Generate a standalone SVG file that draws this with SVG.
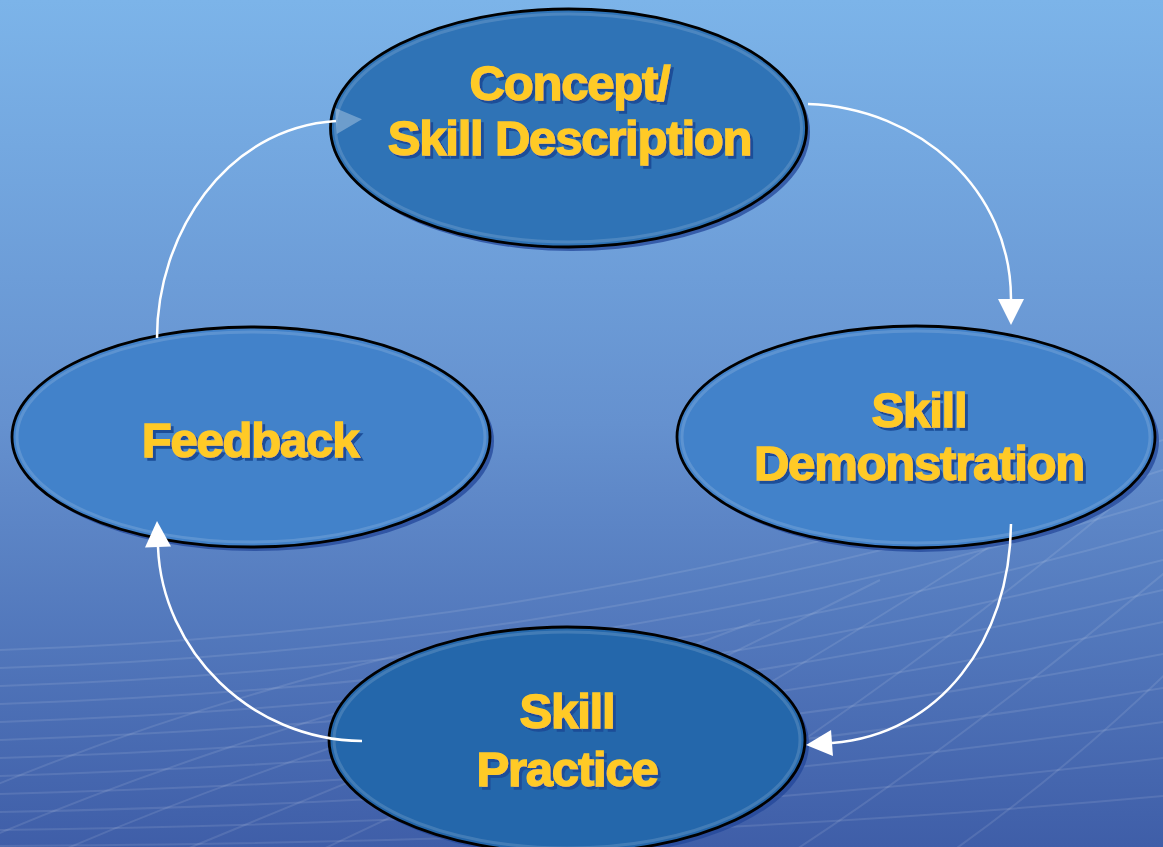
<svg xmlns="http://www.w3.org/2000/svg" width="1163" height="847" viewBox="0 0 1163 847">
  <defs>
    <linearGradient id="bg" x1="0" y1="0" x2="0" y2="1">
      <stop offset="0" stop-color="#7cb4e9"/>
      <stop offset="0.5" stop-color="#6591cf"/>
      <stop offset="1" stop-color="#3f5ea8"/>
    </linearGradient>
    <filter id="text-shadow" x="-10%" y="-20%" width="120%" height="150%">
      <feDropShadow dx="3" dy="3" stdDeviation="0.6" flood-color="#1e4d98" flood-opacity="1"/>
    </filter>
    <marker id="head" markerUnits="userSpaceOnUse" markerWidth="27" markerHeight="26" viewBox="0 0 10 10" refX="0" refY="5" orient="auto">
      <path d="M0 0 L10 5 L0 10 Z" fill="#ffffff"/>
    </marker>
    <marker id="head-faint" markerUnits="userSpaceOnUse" markerWidth="27" markerHeight="26" viewBox="0 0 10 10" refX="0" refY="5" orient="auto">
      <path d="M0 0 L10 5 L0 10 Z" fill="#ffffff" fill-opacity="0.3"/>
    </marker>
  </defs>
  <style>
    .mesh path { fill: none; stroke: #ffffff; stroke-opacity: 0.1; stroke-width: 2; }
    .shadow { fill: #23479a; opacity: 0.75; }
    .oval { stroke: #000000; stroke-width: 2.8; }
    .bevel { fill: none; stroke: #ffffff; stroke-opacity: 0.14; stroke-width: 3; }
    .dark { fill: #2f73b6; }
    .mid { fill: #4282ca; }
    .deep { fill: #2467ab; }
    .label { font-family: "Liberation Sans", Arial, sans-serif; font-weight: bold; font-size: 49px; letter-spacing: -1.2px; text-anchor: middle; fill: #ffca28; stroke: #ffca28; stroke-width: 1.4px; filter: url(#text-shadow); }
    .link { fill: none; stroke: #ffffff; stroke-width: 2.5; }
  </style>

  <!-- backdrop -->
  <rect x="0" y="0" width="1163" height="847" fill="url(#bg)"/>
  <g class="mesh">
    <path d="M0 650 C300 640 700 600 1163 440"/>
    <path d="M0 668 C300 658 700 620 1163 470"/>
    <path d="M0 686 C300 676 700 640 1163 500"/>
    <path d="M0 704 C300 694 700 660 1163 530"/>
    <path d="M0 722 C300 712 700 680 1163 560"/>
    <path d="M0 740 C300 730 700 700 1163 590"/>
    <path d="M0 758 C300 748 700 722 1163 622"/>
    <path d="M0 776 C300 766 700 744 1163 654"/>
    <path d="M0 794 C300 786 700 766 1163 688"/>
    <path d="M0 812 C300 806 700 790 1163 722"/>
    <path d="M0 830 C300 826 700 814 1163 758"/>
    <path d="M0 846 C300 844 700 838 1163 796"/>
    <path d="M-40 800 C100 740 250 690 420 650"/>
    <path d="M-40 850 C120 780 300 720 520 660"/>
    <path d="M40 860 C200 790 400 720 640 650"/>
    <path d="M160 860 C330 790 520 710 760 620"/>
    <path d="M300 860 C470 780 660 690 880 580"/>
    <path d="M460 860 C620 770 800 670 1000 540"/>
    <path d="M620 860 C780 760 940 650 1120 500"/>
    <path d="M780 860 C920 770 1060 660 1180 560"/>
    <path d="M940 860 C1040 790 1120 720 1190 650"/>
  </g>

  <!-- Concept / Skill Description -->
  <g id="node-concept">
    <ellipse class="shadow" cx="572" cy="132" rx="238" ry="119"/>
    <ellipse class="oval dark" cx="568.5" cy="128" rx="238" ry="119"/>
    <ellipse class="bevel" cx="568.5" cy="128" rx="233" ry="114"/>
    <text class="label" x="569.5" y="100">Concept/</text>
    <text class="label" x="569.5" y="155">Skill Description</text>
  </g>

  <!-- Skill Demonstration -->
  <g id="node-demonstration">
    <ellipse class="shadow" cx="920" cy="441" rx="239" ry="111"/>
    <ellipse class="oval mid" cx="916" cy="437" rx="239" ry="111"/>
    <ellipse class="bevel" cx="916" cy="437" rx="234" ry="106"/>
    <text class="label" x="919" y="427">Skill</text>
    <text class="label" x="919" y="480">Demonstration</text>
  </g>

  <!-- Feedback -->
  <g id="node-feedback">
    <ellipse class="shadow" cx="255" cy="441" rx="239" ry="110"/>
    <ellipse class="oval mid" cx="251" cy="437" rx="239" ry="110"/>
    <ellipse class="bevel" cx="251" cy="437" rx="234" ry="105"/>
    <text class="label" x="250" y="457">Feedback</text>
  </g>

  <!-- Skill Practice -->
  <g id="node-practice">
    <ellipse class="shadow" cx="571" cy="744" rx="238" ry="113"/>
    <ellipse class="oval deep" cx="567" cy="740" rx="238" ry="113"/>
    <ellipse class="bevel" cx="567" cy="740" rx="233" ry="108"/>
    <text class="label" x="567" y="728">Skill</text>
    <text class="label" x="567" y="786">Practice</text>
  </g>

  <!-- connectors, drawn over the ovals -->
  <g id="connectors">
    <path class="link" d="M808 104 C920 108 1011 190 1011 299" marker-end="url(#head)"/>
    <path class="link" d="M1011 524 C1010 640 940 735 832 743" marker-end="url(#head)"/>
    <path class="link" d="M362 741 C250 740 162 650 158 547" marker-end="url(#head)"/>
    <path class="link" d="M157 338 C157 235 225 128 336 121" marker-end="url(#head-faint)"/>
  </g>
</svg>
